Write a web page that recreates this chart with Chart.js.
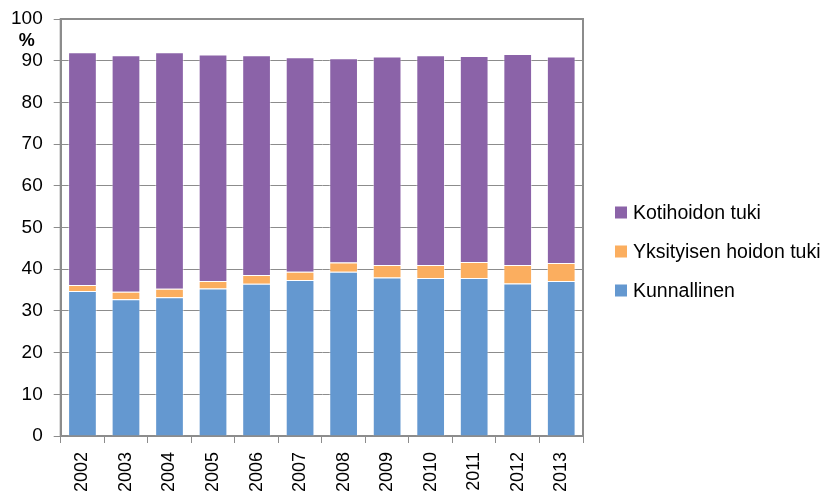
<!DOCTYPE html>
<html>
<head>
<meta charset="utf-8">
<script src="https://cdn.jsdelivr.net/npm/chart.js@4/dist/chart.umd.min.js"></script>
<style>
  html, body { margin: 0; padding: 0; background: #ffffff; }
  #wrap { width: 823px; height: 495px; }
</style>
</head>
<body>
<div id="wrap"><canvas id="c" width="823" height="495"></canvas></div>
<script>
const years = ["2002","2003","2004","2005","2006","2007","2008","2009","2010","2011","2012","2013"];
const kunnallinen = [34.8, 32.8, 33.3, 35.4, 36.5, 37.4, 39.4, 38.0, 37.9, 37.9, 36.6, 37.2];
const yksityisen = [1.4, 1.8, 2.0, 1.8, 2.1, 2.0, 2.2, 3.0, 3.1, 3.8, 4.4, 4.3];
const kotihoidon = [55.8, 56.7, 56.7, 54.3, 52.7, 51.4, 49.0, 50.0, 50.3, 49.4, 50.6, 49.5];
const yTicks = [0,10,20,30,40,50,60,70,80,90,100];
const unitLabel = "%";

const gridColor = '#8c8c8c';
const fontFamily = '"Liberation Sans", Arial, sans-serif';

const framePlugin = {
  id: 'frame',
  beforeDatasetsDraw(chart) {
    const a = chart.chartArea, ctx = chart.ctx;
    ctx.save();
    ctx.strokeStyle = gridColor;
    ctx.lineWidth = 2;
    ctx.strokeRect(a.left, a.top, a.right - a.left, a.bottom - a.top);
    ctx.restore();
  },
  afterDraw(chart) {
    const ctx = chart.ctx, ys = chart.scales.y, a = chart.chartArea;
    ctx.save();
    ctx.fillStyle = '#000';
    ctx.font = 'bold 18px ' + fontFamily;
    ctx.textAlign = 'center';
    ctx.textBaseline = 'middle';
    ctx.fillText(unitLabel, a.left - 34, ys.getPixelForValue(94.8));
    const ds = chart.data.datasets.slice().reverse();
    const spacing = 39;
    const cy = chart.height / 2 + 4;
    const startY = cy - spacing * (ds.length - 1) / 2;
    const bx = a.right + 32;
    ctx.font = '19.5px ' + fontFamily;
    ctx.textAlign = 'left';
    ds.forEach((d, i) => {
      const y = startY + i * spacing;
      ctx.fillStyle = d.backgroundColor;
      ctx.fillRect(bx, y - 6, 12, 12);
      ctx.fillStyle = '#000';
      ctx.fillText(d.label, bx + 18, y + 1);
    });
    ctx.restore();
  }
};

new Chart(document.getElementById('c'), {
  type: 'bar',
  data: {
    labels: years,
    datasets: [
      { label: 'Kunnallinen', data: kunnallinen, backgroundColor: '#6498d0', borderColor: 'rgba(255,255,255,0.45)', borderWidth: 1 },
      { label: 'Yksityisen hoidon tuki', data: yksityisen, backgroundColor: '#fbae5f', borderColor: 'rgba(255,255,255,0.45)', borderWidth: 1 },
      { label: 'Kotihoidon tuki', data: kotihoidon, backgroundColor: '#8b63a8', borderColor: 'rgba(255,255,255,0.45)', borderWidth: 1 }
    ]
  },
  options: {
    responsive: false,
    animation: false,
    devicePixelRatio: 1,
    layout: { padding: { top: 19, bottom: 3, left: 0, right: 240 } },
    datasets: { bar: { categoryPercentage: 1.0, barPercentage: 0.66 } },
    scales: {
      x: {
        stacked: true,
        afterFit(scale) { scale.height = 56; scale.paddingLeft = 0; scale.paddingRight = 0; },
        grid: { display: true, drawOnChartArea: false, drawTicks: true, tickLength: 7, color: gridColor, lineWidth: 1, offset: true },
        border: { display: true, color: gridColor, width: 2 },
        ticks: { maxRotation: 90, minRotation: 90, padding: 9, color: '#000', font: { family: fontFamily, size: 18 } }
      },
      y: {
        stacked: true,
        min: 0, max: 100,
        afterBuildTicks(scale) { scale.ticks = yTicks.map(v => ({ value: v })); },
        afterFit(scale) { scale.paddingTop = 0; scale.paddingBottom = 0; },
        grid: { color: gridColor, lineWidth: 1, tickLength: 7 },
        border: { display: true, color: gridColor, width: 2 },
        ticks: { padding: 11, color: '#000', font: { family: fontFamily, size: 19 } }
      }
    },
    plugins: {
      legend: { display: false },
      tooltip: { enabled: false }
    }
  },
  plugins: [framePlugin]
});
</script>
</body>
</html>
